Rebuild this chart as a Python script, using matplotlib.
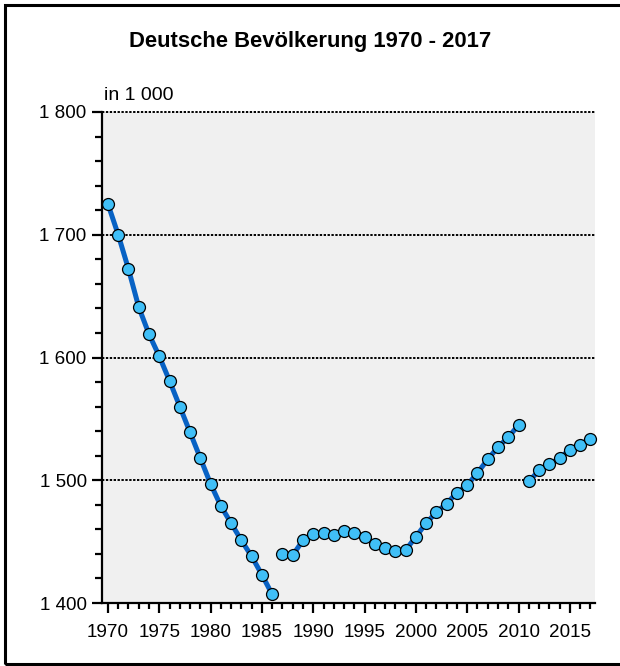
import matplotlib
matplotlib.use("Agg")
import matplotlib.pyplot as plt
from matplotlib import font_manager
from matplotlib.ticker import MultipleLocator, FuncFormatter
from matplotlib.patches import Rectangle

# ---- data ----
years_a = list(range(1970, 1987))
values_a = [1725, 1700, 1672, 1641, 1619, 1601, 1581, 1560, 1539, 1518,
            1497, 1479, 1465, 1451, 1438, 1423, 1407]
years_b = list(range(1987, 2011))
values_b = [1440, 1439, 1451, 1456, 1457, 1455, 1459, 1457, 1454, 1448,
            1445, 1442, 1443, 1454, 1465, 1474, 1481, 1490, 1496, 1506,
            1517, 1527, 1535, 1545]
years_c = list(range(2011, 2018))
values_c = [1499, 1508, 1513, 1518, 1525, 1529, 1534]

title = "Deutsche Bevölkerung 1970 - 2017"
unit_label = "in 1 000"

names = {f.name for f in font_manager.fontManager.ttflist}
fam = [f for f in ["Liberation Sans Narrow", "Liberation Sans", "DejaVu Sans"] if f in names]
plt.rcParams['font.family'] = fam

fig = plt.figure(figsize=(6.2, 6.66), dpi=100)
W, H = 620, 666
ax = fig.add_axes([102 / W, 1 - 603 / H, (595 - 102) / W, (603 - 112) / H])
ax.set_facecolor("#f0f0f0")

line_col = "#0862c4"
face_col = "#40bff7"
for xs, ys in [(years_a, values_a), (years_b, values_b), (years_c, values_c)]:
    ax.plot(xs, ys, color=line_col, lw=3.6, zorder=3, solid_capstyle="butt")
    ax.plot(xs, ys, ls="none", marker="o", ms=8.6, mfc=face_col, mec="black",
            mew=0.9, zorder=4, clip_on=False)

ax.set_ylim(1400, 1800)
ax.set_xlim(1969.42, 2017.45)

ax.yaxis.set_major_locator(MultipleLocator(100))
ax.yaxis.set_minor_locator(MultipleLocator(20))
ax.xaxis.set_major_locator(MultipleLocator(5))
ax.xaxis.set_minor_locator(MultipleLocator(1))
ax.yaxis.set_major_formatter(FuncFormatter(lambda v, p: f"{int(v):,}".replace(",", " ")))
ax.xaxis.set_major_formatter(FuncFormatter(lambda v, p: f"{int(v)}"))

for v in [1500, 1600, 1700, 1800]:
    ax.axhline(v, color="black", lw=1.4, ls=(0, (1.2, 0.8)), zorder=2, clip_on=False)

for s in ["top", "right"]:
    ax.spines[s].set_visible(False)
for s in ["left", "bottom"]:
    ax.spines[s].set_linewidth(1.6)
    ax.spines[s].set_zorder(5)

ax.tick_params(axis="y", which="major", direction="out", length=7, width=1.6,
               labelsize=13.6, pad=4)
ax.tick_params(axis="y", which="minor", direction="out", length=5, width=1.6)
ax.tick_params(axis="x", which="major", direction="out", length=7, width=1.6,
               labelsize=13.6, pad=8)
ax.tick_params(axis="x", which="minor", direction="out", length=4, width=1.6)

fig.text(310 / W, 1 - 41 / H, title, ha="center", va="center",
         fontsize=15.8, fontweight="bold")
fig.text(104 / W, 1 - 95 / H, unit_label, ha="left", va="center", fontsize=14)

# frame (right edge outside image)
fig.patches.append(Rectangle((5 / W, 1 - 664 / H), (640 - 5) / W, (664 - 5) / H,
                             transform=fig.transFigure, fill=False,
                             edgecolor="black", lw=2.2, clip_on=False))

fig.savefig("out.png", dpi=100)
